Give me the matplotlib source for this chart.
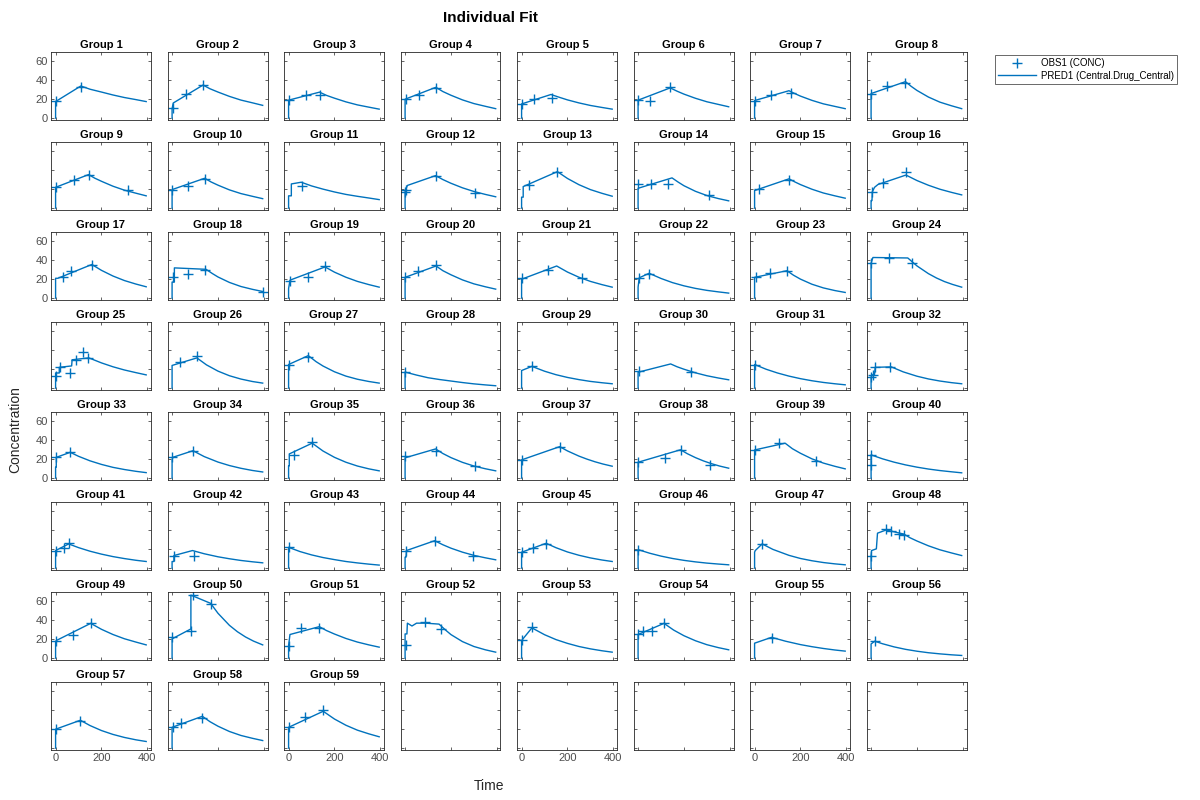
import matplotlib
matplotlib.use("Agg")
import matplotlib.pyplot as plt
from matplotlib.lines import Line2D

plt.rcParams['font.family'] = ['Liberation Sans', 'DejaVu Sans']

groups = [f"Group {i}" for i in range(1, 60)]

pred_t = [
    [0,0,110,150,200,250,300,350,395],
    [0,0,5,135,165,200,250,300,350,395],
    [0,0,135,165,200,250,300,350,395],
    [0,0,134,165,200,250,300,350,395],
    [0,0,128,165,200,250,300,350,395],
    [0,0,140,170,200,250,300,350,395],
    [0,0,150,175,200,250,300,350,395],
    [0,0,150,175,200,250,300,350,395],
    [0,0,144,170,200,250,300,350,395],
    [0,0,142,170,200,250,300,350,395],
    [0,0,12,12,55,100,150,200,250,300,350,395],
    [0,0,5,10,133,165,200,250,300,350,395],
    [0,0,7,7,156,200,250,300,350,395],
    [0,0,148,175,200,250,300,350,395],
    [0,0,150,175,200,250,300,350,395],
    [0,0,4,5,15,30,152,200,250,300,350,395],
    [0,0,10,158,200,250,300,350,395],
    [0,0,10,10,148,175,200,250,300,350,395],
    [0,0,6,159,200,250,300,350,395],
    [0,0,135,165,200,250,300,350,395],
    [0,0,153,200,250,300,350,395],
    [0,0,5,48,100,150,200,250,300,350,395],
    [0,0,141,170,200,250,300,350,395],
    [0,0,8,160,200,250,285,320,355,395],
    [0,0,16,16,70,72,145,170,200,250,300,350,395],
    [0,0,108,150,200,250,300,350,395],
    [0,0,86,120,150,200,250,300,350,395],
    [0,0,50,100,150,200,250,300,350,395],
    [0,0,45,100,150,200,250,300,350,395],
    [0,0,142,170,200,250,300,350,395],
    [0,0,50,100,150,200,250,300,350,395],
    [0,0,8,15,18,88,140,200,250,300,350,395],
    [0,0,3,3,64,100,150,200,250,300,350,395],
    [0,0,3,91,140,200,250,300,350,395],
    [0,0,3,3,103,150,200,250,300,350,395],
    [0,0,133,165,200,250,300,350,395],
    [0,0,166,200,250,285,320,355,395],
    [0,0,185,215,250,285,320,355,395],
    [0,0,133,165,200,250,300,350,395],
    [0,0,50,100,150,200,250,300,350,395],
    [0,0,57,100,150,200,250,300,350,395],
    [0,0,8,8,89,140,200,250,300,350,395],
    [0,0,50,100,150,200,250,300,350,395],
    [0,0,4,6,129,165,200,250,300,350,395],
    [0,0,107,150,200,250,300,350,395],
    [0,0,50,100,150,200,250,300,350,395],
    [0,0,3,33,80,150,200,250,300,350,395],
    [0,0,2,23,28,66,143,170,200,250,300,350,395],
    [0,0,3,153,200,250,300,350,395],
    [0,0,82,82,168,200,250,285,320,355,395],
    [0,0,6,134,165,200,250,300,350,395],
    [0,0,8,10,30,50,90,148,175,200,250,300,350,395],
    [0,0,45,100,150,200,250,300,350,395],
    [0,0,113,155,200,250,300,350,395],
    [0,0,74,135,200,250,300,350,395],
    [0,0,16,50,100,150,200,250,300,350,395],
    [0,0,108,150,200,250,300,350,395],
    [0,0,132,165,200,250,300,350,395],
    [0,0,151,200,250,300,350,395],
]

pred_c = [
    [0,17.5,34,30.6,27.6,24.5,21.8,19.6,17.5],
    [0,10,16,35,31.1,27.6,23.0,19.1,16.2,13.5],
    [0,19,27.5,24.1,21.1,17.2,14.0,11.6,9.5],
    [0,20,32.6,28.1,24.2,19.3,15.4,12.5,10],
    [0,15,25,22,19.3,16.1,13.4,11.3,9.5],
    [0,19,32,28.5,25.4,21.0,17.3,14.5,12],
    [0,18.6,29,26,23.3,18.8,15.1,12.4,10],
    [0,26,38.6,33.6,29.3,22.3,16.9,13.1,10],
    [0,22,35.5,31.8,28.4,23.2,19.0,15.8,13],
    [0,19.6,31.6,27.7,24.3,19.3,15.4,12.5,10],
    [0,13,13,25.6,27.4,23.5,20.1,17.1,14.5,12.5,10.7,9],
    [0,17,21,24,34.4,30.2,26.3,21.5,17.6,14.5,12],
    [0,11.6,11.6,22.8,38.6,31.4,24.8,19.6,15.7,12.6],
    [0,21,32,27.5,23.7,17.8,13.3,10.1,7.7],
    [0,18.6,31,27.8,24.9,20.0,16.0,13.0,10.5],
    [0,8,8,17,22,25,35,29.2,24.2,20.0,16.7,14],
    [0,21,21,35.6,29.4,23.4,18.6,14.9,12],
    [0,17,17,32,30.5,26.1,22.4,16.6,12.3,9.3,7],
    [0,10,19,33,27.5,22.1,17.7,14.3,11.6],
    [0,22,34,29.0,24.7,19.3,15.1,12.0,9.5],
    [0,20,34,27.6,22.1,17.7,14.3,11.6],
    [0,11.6,21.5,26.3,20.8,16.4,13.0,10.3,8.2,6.6,5.3],
    [0,22,29,24.2,20.1,14.7,10.8,8.0,6],
    [0,37,43,42.5,34.1,25.9,21.3,17.5,14.5,11.6],
    [0,16,16,22,23.5,30,32,29.6,26.7,22.6,19.2,16.4,14],
    [0,24,32,24.6,18.0,13.1,9.6,7.0,5.3],
    [0,25,34.4,28.0,23.4,17.3,12.7,9.4,7.0,5.3],
    [0,17,13.8,11,9.1,7.5,5.9,4.5,3.4,2.5],
    [0,18.6,23,17.9,14.2,11.3,9.0,7.1,5.7,4.6],
    [0,16.8,25.6,22.6,20.0,16.2,13.1,10.7,8.8],
    [0,25,20,16,12.7,10,7.8,6,4.6,3.5],
    [0,11.6,14.4,14.4,22,22.5,17.2,12.6,9.7,7.5,5.8,4.6],
    [0,11.6,11.6,22,27.3,23.1,18.3,14.5,11.4,9.1,7.2,5.8],
    [0,19,22,29,22.8,17.0,13.3,10.4,8.1,6.5],
    [0,13,13,25.6,37,28.7,22.0,16.8,12.8,9.8,7.7],
    [0,21.5,30.9,26.0,21.7,16.7,12.8,9.9,7.7],
    [0,19.3,33.3,28.8,23.3,20.1,17.3,14.9,12.6],
    [0,16.8,30,25.8,21.7,18.2,15.3,12.8,10.5],
    [0,29.8,37,31.1,26.3,20.4,15.9,12.5,9.8],
    [0,24.6,20.4,16.9,14.0,11.6,9.6,8.0,6.7,5.6],
    [0,18.6,25.6,21.7,17.9,14.8,12.2,10.1,8.3,7],
    [0,7,7,13.3,18.6,15.2,12.0,9.9,8.1,6.7,5.6],
    [0,22,17.5,14,11.2,9,7.0,5.5,4.2,3.2],
    [0,11.6,11.6,18.6,29,24.7,21.1,16.9,13.5,10.9,8.8],
    [0,16.8,26.3,21.6,17.1,13.6,10.8,8.6,7],
    [0,19.6,15.8,12.7,10.2,8.2,6.6,5.3,4.3,3.5],
    [0,16.8,18.6,25.6,19.8,13.5,10.2,7.8,5.9,4.5,3.5],
    [0,13.3,18.6,20.4,37,40.4,36,32.1,28.7,23.6,19.4,16.1,13.3],
    [0,16.8,18.6,36.8,30.5,25.0,20.5,17.0,14],
    [0,20.4,30.9,66.7,58,47.5,34.7,27.9,22.4,18.0,14],
    [0,13.3,25,33.3,29.2,25.5,20.8,17.0,14.0,11.6],
    [0,25.6,25.6,37,34,37,37,36,30.0,24.9,17.5,12.3,8.8,6.3],
    [0,18.6,32,24.8,19.6,15.6,12.3,9.8,7.8,6.3],
    [0,25,36.8,29.7,23.7,18.4,14.2,11.1,8.8],
    [0,15.8,22,17.9,14.3,12.1,10.2,8.6,7.4],
    [0,15,17.9,15.2,11.9,9.3,7.3,5.7,4.5,3.5,2.8],
    [0,20,29.5,23.9,18.6,14.5,11.3,8.8,7],
    [0,22,33.7,28.0,23.2,17.6,13.4,10.4,8],
    [0,22,39,30.8,24.2,19.0,15.1,12],
]

obs_t = [
    [0,112],[3,59,134],[0,77,135],[3,59,134],[0,56,132],[0,53,140],[0,70,160],[0,70,150],
    [0,82,144,316],[0,71,142],[60],[0,2,133,306],[34,156],[0,55,130,310],[20,150],[3,50,152],
    [33,67,158],[3,69,145,395],[6,86,159],[0,57,135],[3,116,264],[5,48],[5,68,141],[0,77,180],
    [0,20,62,90,121,140],[33,108],[0,86],[0],[45],[5,231],[0],[0,8,18,81],
    [0,64],[0,91],[23,103],[0,133,306],[0,166],[0,118,185,315],[0,107,266],[0,0],
    [0,36,57],[10,96],[0],[6,129,297],[0,51,107],[0],[33],[0,67,86,121,143],
    [0,75,153],[0,82,89,168],[0,53,134],[3,86,157],[3,45],[0,22,62,113],[74],[16],
    [3,108],[5,40,132],[0,73,151],
]

obs_c = [
    [18,32.5],[10.5,25,35],[19,24,24],[20.3,24.5,31.6],[15,20,21],[19,18,32.6],[18.6,24,27],[26,34,37],
    [22,29.5,34.7,19],[19.6,23.5,31],[23],[17,19,33.7,16],[24,38],[26,26,26,13.7],[20.4,30],[17,26.7,38],
    [22,28.6,35],[22,26,29.8,7],[18,22.5,33.7],[22,28.6,35],[21,29.5,21],[21.5,25.6],[22,26.7,28.4],[37.5,42,37],
    [13.3,22,15.8,30,38,32],[27.7,34],[25,33],[17],[23],[17.9,16.8],[25],[11.6,14.4,22,22],
    [22,27.3],[22.5,28.8],[24,38],[23,29,12.3],[19.3,33.3],[16.8,21,30,13.7],[29.8,37,18.2],[24.6,14.4],
    [18.6,21.4,26.3],[12.6,13.3],[22],[18,29,13.3],[16.8,21.4,25.6],[19.6],[25.6],[13.3,41.4,39.6,36,35.4],
    [18.6,25,36.8],[22,29,66.7,57],[13.3,32,32],[14,38,30.9],[19.3,33.3],[25.6,28.4,28.4,36.8],[21.4],[17.9],
    [20,28.8],[22,27,32],[22,33.3,40],
]

x_ticks = [0, 200, 400]
y_ticks = [0, 20, 40, 60]

BLUE = '#0072BD'
AXC = '#262626'

fig = plt.figure(figsize=(12, 8), dpi=100)
W, H = 1200.0, 800.0

for idx in range(64):
    r, c = divmod(idx, 8)
    left = (51 + 116.5 * c) / W
    bottom = 1 - (52 + 90 * r + 68) / H
    ax = fig.add_axes([left, bottom, 100 / W, 68 / H])
    ax.set_xlim(-20, 416)
    ax.set_ylim(-2, 70)
    ax.set_xticks(x_ticks)
    ax.set_yticks(y_ticks)
    ax.tick_params(direction='in', top=True, right=True, length=2.5, width=0.5,
                   colors=AXC, labelsize=8, pad=2, labelcolor='#4d4d4d')
    for s in ax.spines.values():
        s.set_color(AXC)
        s.set_linewidth(0.6)
    if not (c == 0 and r % 2 == 0):
        ax.set_yticklabels([])
    if not (r == 7 and c % 2 == 0):
        ax.set_xticklabels([])
    if idx < len(groups):
        ax.plot(pred_t[idx], pred_c[idx], color=BLUE, lw=1.0)
        ax.plot(obs_t[idx], obs_c[idx], linestyle='none', marker='+',
                color=BLUE, ms=7, mew=1.0)
        ax.set_title(groups[idx], fontsize=8, fontweight='bold', pad=3, color='black')

fig.text(490 / W, 1 - 18 / H, 'Individual Fit', ha='center', va='center',
         fontsize=11, fontweight='bold')
fig.text(15 / W, 1 - 430 / H, 'Concentration', ha='center', va='center',
         rotation=90, fontsize=10, color=AXC)
fig.text(489 / W, 1 - 786 / H, 'Time', ha='center', va='center',
         fontsize=10, color=AXC)

handles = [Line2D([], [], linestyle='none', marker='+', color=BLUE, ms=7, mew=1.0),
           Line2D([], [], color=BLUE, lw=1.0)]
leg = fig.legend(handles, ['OBS1 (CONC)', 'PRED1 (Central.Drug_Central)'],
                 loc='upper left', bbox_to_anchor=(995 / W, 1 - 55 / H),
                 fontsize=7, frameon=True, fancybox=False, edgecolor=AXC,
                 handlelength=3.9, borderpad=0.3, labelspacing=0.3,
                 handletextpad=0.5, borderaxespad=0)
leg.get_frame().set_linewidth(0.6)

fig.savefig('out.png', dpi=100)
